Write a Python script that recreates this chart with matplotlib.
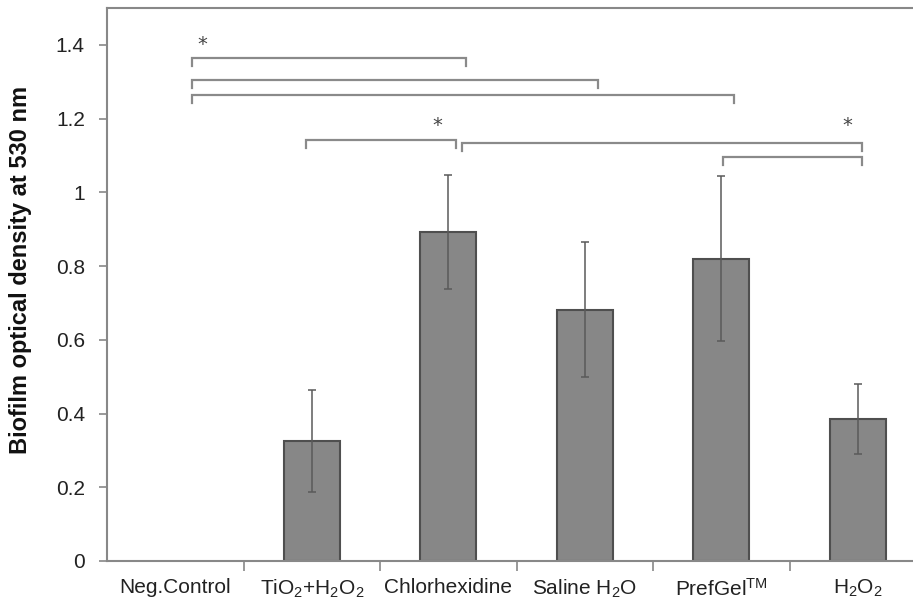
import matplotlib
matplotlib.use("Agg")
import matplotlib.pyplot as plt

plt.rcParams['font.family'] = ['Liberation Sans', 'DejaVu Sans']
plt.rcParams['mathtext.fontset'] = 'custom'
plt.rcParams['mathtext.rm'] = 'Liberation Sans'
plt.rcParams['mathtext.it'] = 'Liberation Sans:italic'
plt.rcParams['mathtext.bf'] = 'Liberation Sans:bold'

# data
groupes = [r'Neg.Control', r'TiO$_\mathregular{2}$+H$_\mathregular{2}$O$_\mathregular{2}$',
           r'Chlorhexidine', r'Saline H$_\mathregular{2}$O', r'PrefGel$^\mathregular{TM}$',
           r'H$_\mathregular{2}$O$_\mathregular{2}$']
moyennes = [0.0, 0.326, 0.892, 0.682, 0.820, 0.385]
erreurs = [0.0, 0.138, 0.155, 0.184, 0.223, 0.095]

# significance brackets: (x start, x end, height)
crochets = [(0.12, 2.13, 1.365),
            (0.12, 3.10, 1.305),
            (0.12, 4.09, 1.265),
            (0.96, 2.06, 1.142),
            (2.10, 5.03, 1.135),
            (4.01, 5.03, 1.096)]
etoiles = [(0.20, 1.40), (1.92, 1.18), (4.92, 1.18)]

fig = plt.figure(figsize=(9.13, 6.02), dpi=100)
ax = fig.add_axes([107 / 913, 1 - 561 / 602, 819 / 913, 553 / 602])

x = list(range(len(groupes)))
bords = [1.5 if m > 0 else 0 for m in moyennes]
ax.bar(x, moyennes, width=0.41, color='#878787', edgecolor='#4f4f4f', linewidth=bords, zorder=2)
for xi, m, e in zip(x, moyennes, erreurs):
    if e > 0:
        ax.errorbar(xi, m, yerr=e, fmt='none', ecolor='#5a5a5a', elinewidth=1.1,
                    capsize=3, capthick=1.1, zorder=3)

for x0, x1, h in crochets:
    ax.plot([x0, x0, x1, x1], [h - 0.022, h, h, h - 0.022], color='#8a8a8a', lw=1.6,
            solid_joinstyle='miter', zorder=3)
for xs, ys in etoiles:
    ax.text(xs, ys, '*', ha='center', va='center', fontsize=14, color='#444444',
            family='DejaVu Sans')

ax.set_xlim(-0.5, 5.5)
ax.set_ylim(0, 1.5)
ax.set_yticks([0, 0.2, 0.4, 0.6, 0.8, 1.0, 1.2, 1.4])
ax.set_yticklabels(['0', '0.2', '0.4', '0.6', '0.8', '1', '1.2', '1.4'])
ax.set_xticks([i + 0.5 for i in range(5)])
ax.set_xticklabels([])
ax.set_xticks(x, minor=True)
ax.set_xticklabels(groupes, minor=True)
ax.tick_params(axis='x', which='minor', length=0, pad=12, labelsize=15, colors='#222222')
ax.tick_params(axis='x', which='major', length=7, width=1.2, color='#888888')
ax.tick_params(axis='y', length=6, width=1.2, color='#888888', labelsize=15,
               labelcolor='#222222', pad=10)
for s in ['left', 'top', 'bottom', 'right']:
    ax.spines[s].set_color('#888888')
    ax.spines[s].set_linewidth(1.5)

ax.set_ylabel('Biofilm optical density at 530 nm', fontsize=17, fontweight='bold',
              color='#111111')
ax.yaxis.set_label_coords(-0.092, 0.526)

fig.savefig('out.png', dpi=100)
